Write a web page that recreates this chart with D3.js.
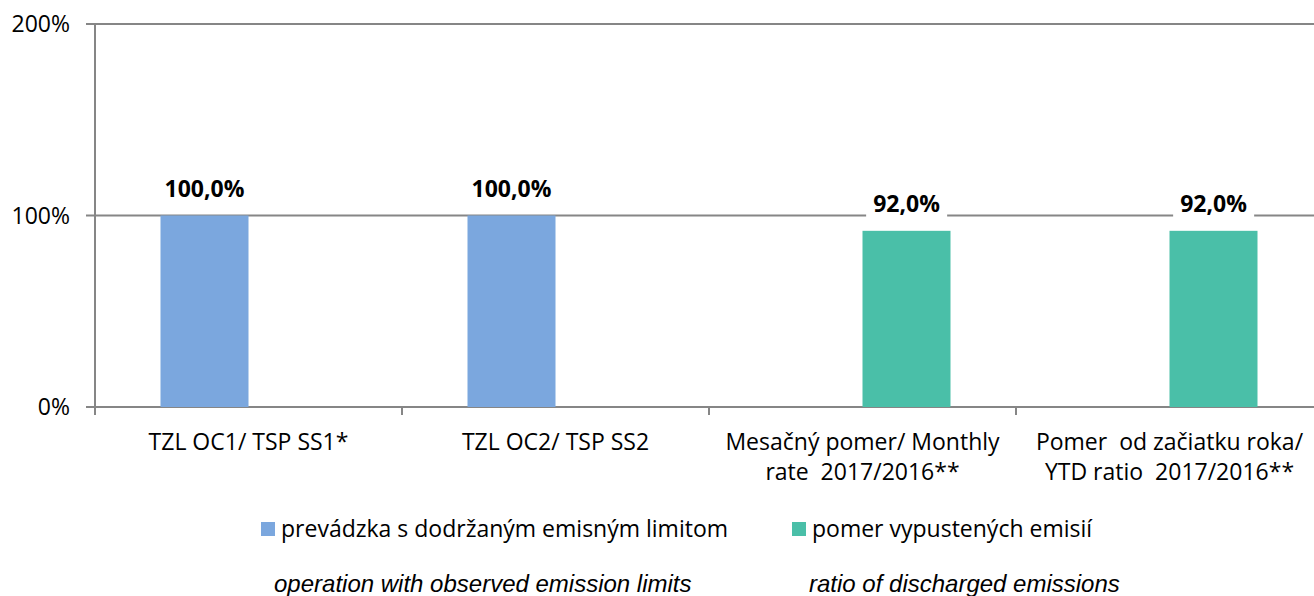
<!DOCTYPE html>
<html>
<head>
<meta charset="utf-8">
<script src="https://cdn.jsdelivr.net/npm/d3@7"></script>
<style>
  body { margin: 0; background: #fff; }
  svg text { font-family: "Open Sans", "Noto Sans", sans-serif; fill: #000; white-space: pre; }
</style>
</head>
<body>
<svg id="chart" width="1314" height="596"></svg>
<script>
// data
const categories = [
  ['TZL OC1/ TSP SS1*'],
  ['TZL OC2/ TSP SS2'],
  ['Mesačný pomer/ Monthly', 'rate  2017/2016**'],
  ['Pomer  od začiatku roka/', 'YTD ratio  2017/2016**']
];
const seriesNames = ['prevádzka s dodržaným emisným limitom', 'pomer vypustených emisií'];
const seriesEnglish = ['operation with observed emission limits', 'ratio of discharged emissions'];
const compliance = [100, 100, 0, 0];
const emissionRatio = [0, 0, 92, 92];
const yTicks = [0, 100, 200];
const colors = ['#7ba7de', '#4abfa8'];

const svg = d3.select('#chart');
const plotLeft = 95, plotTop = 24, plotBottom = 407, bandW = 307;
const fs = '23px';

const x0 = d3.scaleBand()
  .domain(d3.range(categories.length))
  .range([plotLeft, plotLeft + bandW * categories.length]);
const x1 = d3.scaleBand()
  .domain([0, 1])
  .range([65.5, bandW - 65.5]);
const y = d3.scaleLinear().domain([0, 200]).range([plotBottom, plotTop]);

// gridlines
svg.append('g')
  .selectAll('line')
  .data(yTicks)
  .join('line')
  .attr('x1', plotLeft - 9).attr('x2', 1314)
  .attr('y1', d => y(d)).attr('y2', d => y(d))
  .attr('stroke', '#868686').attr('stroke-width', 2);

// y axis line
svg.append('line')
  .attr('x1', plotLeft).attr('x2', plotLeft)
  .attr('y1', y(200)).attr('y2', y(0))
  .attr('stroke', '#868686').attr('stroke-width', 2);

// category ticks
svg.append('g')
  .selectAll('line')
  .data(d3.range(categories.length + 1))
  .join('line')
  .attr('x1', d => plotLeft + d * bandW).attr('x2', d => plotLeft + d * bandW)
  .attr('y1', y(0)).attr('y2', y(0) + 8)
  .attr('stroke', '#868686').attr('stroke-width', 2);

// y tick labels
svg.append('g')
  .selectAll('text')
  .data(yTicks)
  .join('text')
  .attr('x', 70).attr('y', d => y(d))
  .attr('dy', '0.35em')
  .attr('text-anchor', 'end')
  .style('font-size', fs)
  .text(d => d + '%');

// bars
const series = [compliance, emissionRatio];
const bars = [];
series.forEach((vals, s) => {
  vals.forEach((v, i) => { if (v > 0) bars.push({ s, i, v }); });
});

svg.append('g')
  .selectAll('rect')
  .data(bars)
  .join('rect')
  .attr('x', d => x0(d.i) + x1(d.s))
  .attr('width', x1.bandwidth())
  .attr('y', d => y(d.v))
  .attr('height', d => y(0) - y(d.v))
  .attr('fill', d => colors[d.s]);

// data labels with white box
const lab = svg.append('g')
  .selectAll('g')
  .data(bars)
  .join('g')
  .attr('transform', d => `translate(${x0(d.i) + x1(d.s) + x1.bandwidth() / 2},${y(d.v) - 19})`);
lab.append('rect').attr('fill', '#fff');
lab.append('text')
  .attr('text-anchor', 'middle')
  .style('font-size', fs)
  .style('font-weight', 'bold')
  .text(d => d.v.toFixed(1).replace('.', ',') + '%');
lab.each(function () {
  const b = d3.select(this).select('text').node().getBBox();
  d3.select(this).select('rect')
    .attr('x', b.x - 7).attr('y', b.y)
    .attr('width', b.width + 14).attr('height', b.height + 2);
});

// category labels
svg.append('g')
  .selectAll('text')
  .data(categories)
  .join('text')
  .attr('x', (d, i) => x0(i) + bandW / 2)
  .attr('y', 450)
  .attr('text-anchor', 'middle')
  .style('font-size', fs)
  .selectAll('tspan')
  .data(d => d)
  .join('tspan')
  .attr('x', function () { return d3.select(this.parentNode).attr('x'); })
  .attr('dy', (d, j) => j ? 30 : 0)
  .text(d => d);

// legend
const legendX = [261, 792];
const leg = svg.append('g')
  .selectAll('g')
  .data(seriesNames)
  .join('g')
  .attr('transform', (d, i) => `translate(${legendX[i]},529)`);
leg.append('rect')
  .attr('x', 0).attr('y', -7).attr('width', 14).attr('height', 14)
  .attr('fill', (d, i) => colors[i]);
leg.append('text')
  .attr('x', 20).attr('dy', '0.35em')
  .style('font-size', fs)
  .text(d => d);

svg.append('g')
  .selectAll('text')
  .data(seriesEnglish)
  .join('text')
  .attr('x', (d, i) => [274, 809][i])
  .attr('y', 592)
  .style('font-family', '"Liberation Sans", Arial, sans-serif')
  .style('font-style', 'italic')
  .style('font-size', '24px')
  .text(d => d);
</script>
</body>
</html>
